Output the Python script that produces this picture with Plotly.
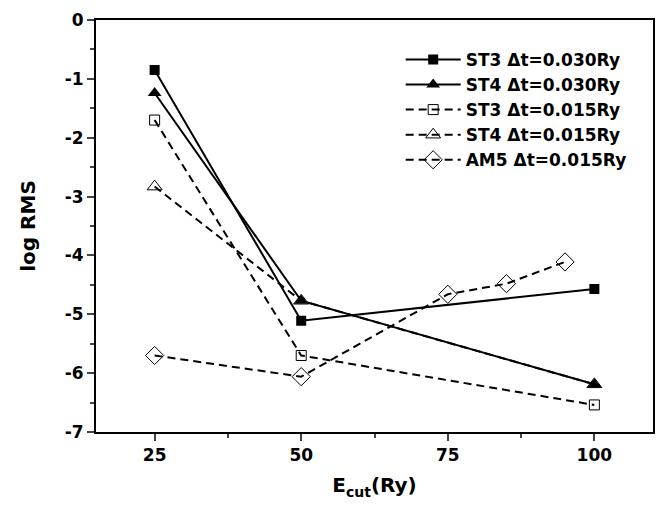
import plotly.graph_objects as go

x_main = [25, 50, 100]
st3_030 = [-0.85, -5.11, -4.57]
st4_030 = [-1.24, -4.77, -6.19]
st3_015 = [-1.70, -5.70, -6.54]
st4_015 = [-2.83, -4.77, -6.19]
x_am5 = [25, 50, 75, 85, 95]
am5_015 = [-5.70, -6.06, -4.66, -4.48, -4.11]

names = ["ST3 \u0394t=0.030Ry", "ST4 \u0394t=0.030Ry", "ST3 \u0394t=0.015Ry",
         "ST4 \u0394t=0.015Ry", "AM5 \u0394t=0.015Ry"]

x_ticks = [25, 50, 75, 100]
y_ticks = [0, -1, -2, -3, -4, -5, -6, -7]
y_ticktext = ["0", "-1", "-2", "-3", "-4", "-5", "-6", "-7"]

FONT = "DejaVu Sans, Arial, sans-serif"

fig = go.Figure()
fig.add_trace(go.Scatter(x=x_main, y=st3_030, name=names[0], mode="lines+markers",
                         line=dict(color="black", width=2),
                         marker=dict(symbol="square", size=10, color="black")))
fig.add_trace(go.Scatter(x=x_main, y=st4_030, name=names[1], mode="lines+markers",
                         line=dict(color="black", width=2),
                         marker=dict(symbol="triangle-up", size=12, color="black")))
fig.add_trace(go.Scatter(x=x_main, y=st3_015, name=names[2], mode="lines+markers",
                         line=dict(color="black", width=2, dash="8px,5px"),
                         marker=dict(symbol="square-open", size=10, color="black",
                                     line=dict(width=1))))
fig.add_trace(go.Scatter(x=x_main, y=st4_015, name=names[3], mode="lines+markers",
                         line=dict(color="black", width=2, dash="8px,5px"),
                         marker=dict(symbol="triangle-up-open", size=13, color="black",
                                     line=dict(width=1))))
fig.add_trace(go.Scatter(x=x_am5, y=am5_015, name=names[4], mode="lines+markers",
                         line=dict(color="black", width=2, dash="8px,5px"),
                         marker=dict(symbol="diamond-open", size=14, color="black",
                                     line=dict(width=1))))

fig.update_layout(
    width=659, height=510,
    margin=dict(l=96, r=4, t=20, b=78),
    paper_bgcolor="white", plot_bgcolor="white",
    font=dict(family=FONT, color="black", size=17),
    showlegend=True,
    legend=dict(x=0.547, y=0.947, xanchor="left", yanchor="top",
                bgcolor="rgba(0,0,0,0)", font=dict(size=17, family=FONT, weight="bold"),
                itemwidth=55, tracegroupgap=0),
    xaxis=dict(range=[15, 110], tickvals=x_ticks, showgrid=False, zeroline=False,
               ticks="outside", ticklen=7, tickwidth=2, showline=True, linewidth=2,
               linecolor="black", mirror=True,
               minor=dict(tickvals=[37.5, 62.5, 87.5], ticks="outside", ticklen=4, tickwidth=2,
                          showgrid=False),
               tickfont=dict(size=17, family=FONT, weight="bold"),
               title=dict(text="E<sub>cut</sub>(Ry)", font=dict(size=20, family=FONT, weight="bold"),
                          standoff=14)),
    yaxis=dict(range=[-7, 0], tickvals=y_ticks, ticktext=y_ticktext, showgrid=False,
               zeroline=False, ticks="outside", ticklen=7, tickwidth=2, showline=True,
               linewidth=2, linecolor="black", mirror=True,
               minor=dict(tickvals=[-0.5, -1.5, -2.5, -3.5, -4.5, -5.5, -6.5], ticks="outside",
                          ticklen=4, tickwidth=2, showgrid=False),
               tickfont=dict(size=17, family=FONT, weight="bold"),
               title=dict(text="log RMS", font=dict(size=20, family=FONT, weight="bold"),
                          standoff=24)),
)

fig.write_html("out.html")
